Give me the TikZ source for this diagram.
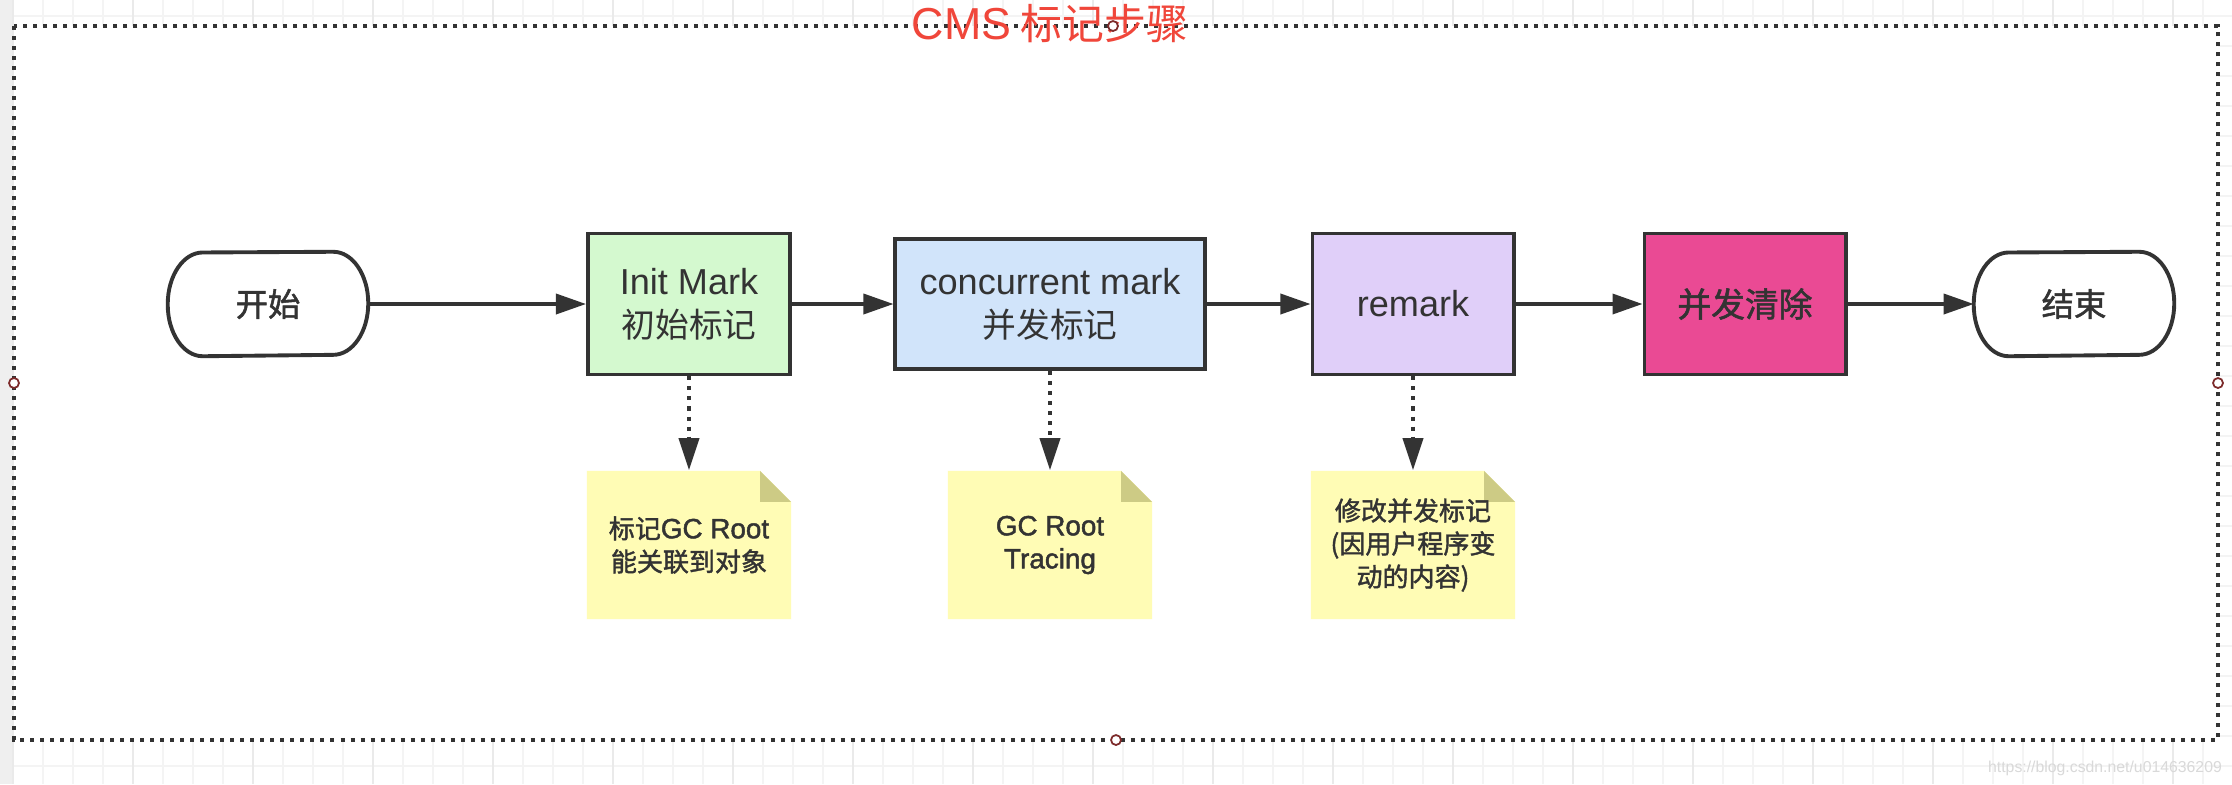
\documentclass[tikz,border=0pt]{standalone}
\usepackage{fontspec}
\setmainfont{Noto Sans CJK SC}
\newfontfamily\latin[Scale=1.07]{Liberation Sans}
\newfontfamily\medium[FakeBold=1.6]{Noto Sans CJK SC}
\newfontfamily\latinmed[Scale=1.07,FakeBold=1.6]{Liberation Sans}
\usetikzlibrary{positioning,arrows.meta}
\definecolor{ink}{HTML}{333333}
\definecolor{initfill}{HTML}{D4F9CF}
\definecolor{concfill}{HTML}{D1E4FA}
\definecolor{remarkfill}{HTML}{E0CFF9}
\definecolor{sweepfill}{HTML}{EA4A94}
\definecolor{notefill}{HTML}{FFFCB5}
\definecolor{notefold}{HTML}{CDCB85}
\definecolor{titlered}{HTML}{F0463A}
\definecolor{handle}{HTML}{7D2B2B}
\definecolor{gridminor}{HTML}{F4F4F4}
\definecolor{gridmajor}{HTML}{EAEAEA}
\definecolor{sidebar}{HTML}{EFEFEF}

\begin{document}
\begin{tikzpicture}[x=0.01cm,y=-0.01cm,
  phase/.style={draw=ink,line width=1.1pt,inner sep=0,align=center,text=ink,
    font=\fontsize{9.6}{12.2}\selectfont},
  terminal/.style={minimum width=1.99cm,minimum height=1.03cm,inner sep=0,text=ink,
    font=\fontsize{9.2}{11}\selectfont\medium},
  note/.style={minimum width=2.04cm,minimum height=1.48cm,inner sep=0,align=center,text=ink,
    font=\fontsize{7.4}{9.4}\selectfont\medium,
    path picture={
      \fill[notefill] (path picture bounding box.south west)
        -- (path picture bounding box.north west)
        -- ([xshift=-0.31cm]path picture bounding box.north east)
        -- ([yshift=-0.31cm]path picture bounding box.north east)
        -- (path picture bounding box.south east) -- cycle;
      \fill[notefold] ([xshift=-0.31cm]path picture bounding box.north east)
        -- ++(0,-0.31cm) -- ++(0.31cm,0) -- cycle;}},
  flow/.style={ink,line width=1pt,-{Triangle[length=0.3cm,width=0.2cm]}},
  hint/.style={ink,line width=1.1pt,dash pattern=on 0.04cm off 0.06cm,
    -{Triangle[length=0.32cm,width=0.2cm]}},
  frameline/.style={ink,line width=1.1pt,dash pattern=on 0.04cm off 0.06cm}]
\useasboundingbox (0,0) rectangle (2232,784);
\fill[white] (0,0) rectangle (2232,784);
\foreach \gx in {13,43,...,2232} \draw[gridminor,line width=0.6pt] (\gx,0) -- (\gx,784);
\foreach \gy in {16,46,...,784} \draw[gridminor,line width=0.6pt] (0,\gy) -- (2232,\gy);
\foreach \gx in {13,133,...,2232} \draw[gridmajor,line width=0.6pt] (\gx,0) -- (\gx,784);
\fill[sidebar] (0,0) rectangle (12,784);
\fill[white] (14,26) rectangle (2218,740);
\draw[frameline] (14,26) rectangle (2218,740);

\node[text=titlered,font=\fontsize{11.9}{14}\selectfont] (title) at (1050,24) {{\latin CMS} 标记步骤};

\node[terminal] (start) at (268,304) {开始};
\node[phase,fill=initfill,minimum width=2.02cm,minimum height=1.41cm] (init) at (689,304) {{\latin Init Mark}\\初始标记};
\node[phase,fill=concfill,minimum width=3.09cm,minimum height=1.30cm] (conc) at (1050,304) {{\latin concurrent mark}\\并发标记};
\node[phase,fill=remarkfill,minimum width=2.01cm,minimum height=1.41cm] (remark) at (1413,304) {\latin remark};
\node[phase,fill=sweepfill,minimum width=2.01cm,minimum height=1.41cm,font=\fontsize{9.6}{12.2}\selectfont\medium] (sweep) at (1745,304) {并发清除};
\node[terminal] (stop) at (2074,304) {结束};

\foreach \t in {start,stop}
  \draw[ink,line width=1.1pt,line join=round] (\t.west)
    arc[start angle=180,end angle=90,x radius=0.35cm,y radius=0.515cm]
    -- ([xshift=-0.35cm]\t.north east)
    arc[start angle=90,end angle=-90,x radius=0.35cm,y radius=0.515cm]
    -- ([xshift=0.35cm]\t.south west)
    arc[start angle=270,end angle=180,x radius=0.35cm,y radius=0.515cm] -- cycle;

\node[note] (n1) at (689,545) {标记{\latinmed GC Root}\\能关联到对象};
\node[note] (n2) at (1050,545) {{\latinmed GC Root}\\{\latinmed Tracing}};
\node[note] (n3) at (1413,545) {修改并发标记\\(因用户程序变\\动的内容)};

\draw[flow] (start) -- (init);
\draw[flow] (init) -- (conc);
\draw[flow] (conc) -- (remark);
\draw[flow] (remark) -- (sweep);
\draw[flow] (sweep) -- (stop);
\draw[hint] (init) -- (n1);
\draw[hint] (conc) -- (n2);
\draw[hint] (remark) -- (n3);

\foreach \hx/\hy in {1113/26,14/383,2218/383,1116/740}
  \draw[handle,line width=0.5pt,fill=white] (\hx,\hy) circle[radius=0.05cm];
\node[text=gray!30,font=\fontsize{4.2}{5}\selectfont\latin] (wm) at (2105,768) {https://blog.csdn.net/u014636209};
\end{tikzpicture}
\end{document}
